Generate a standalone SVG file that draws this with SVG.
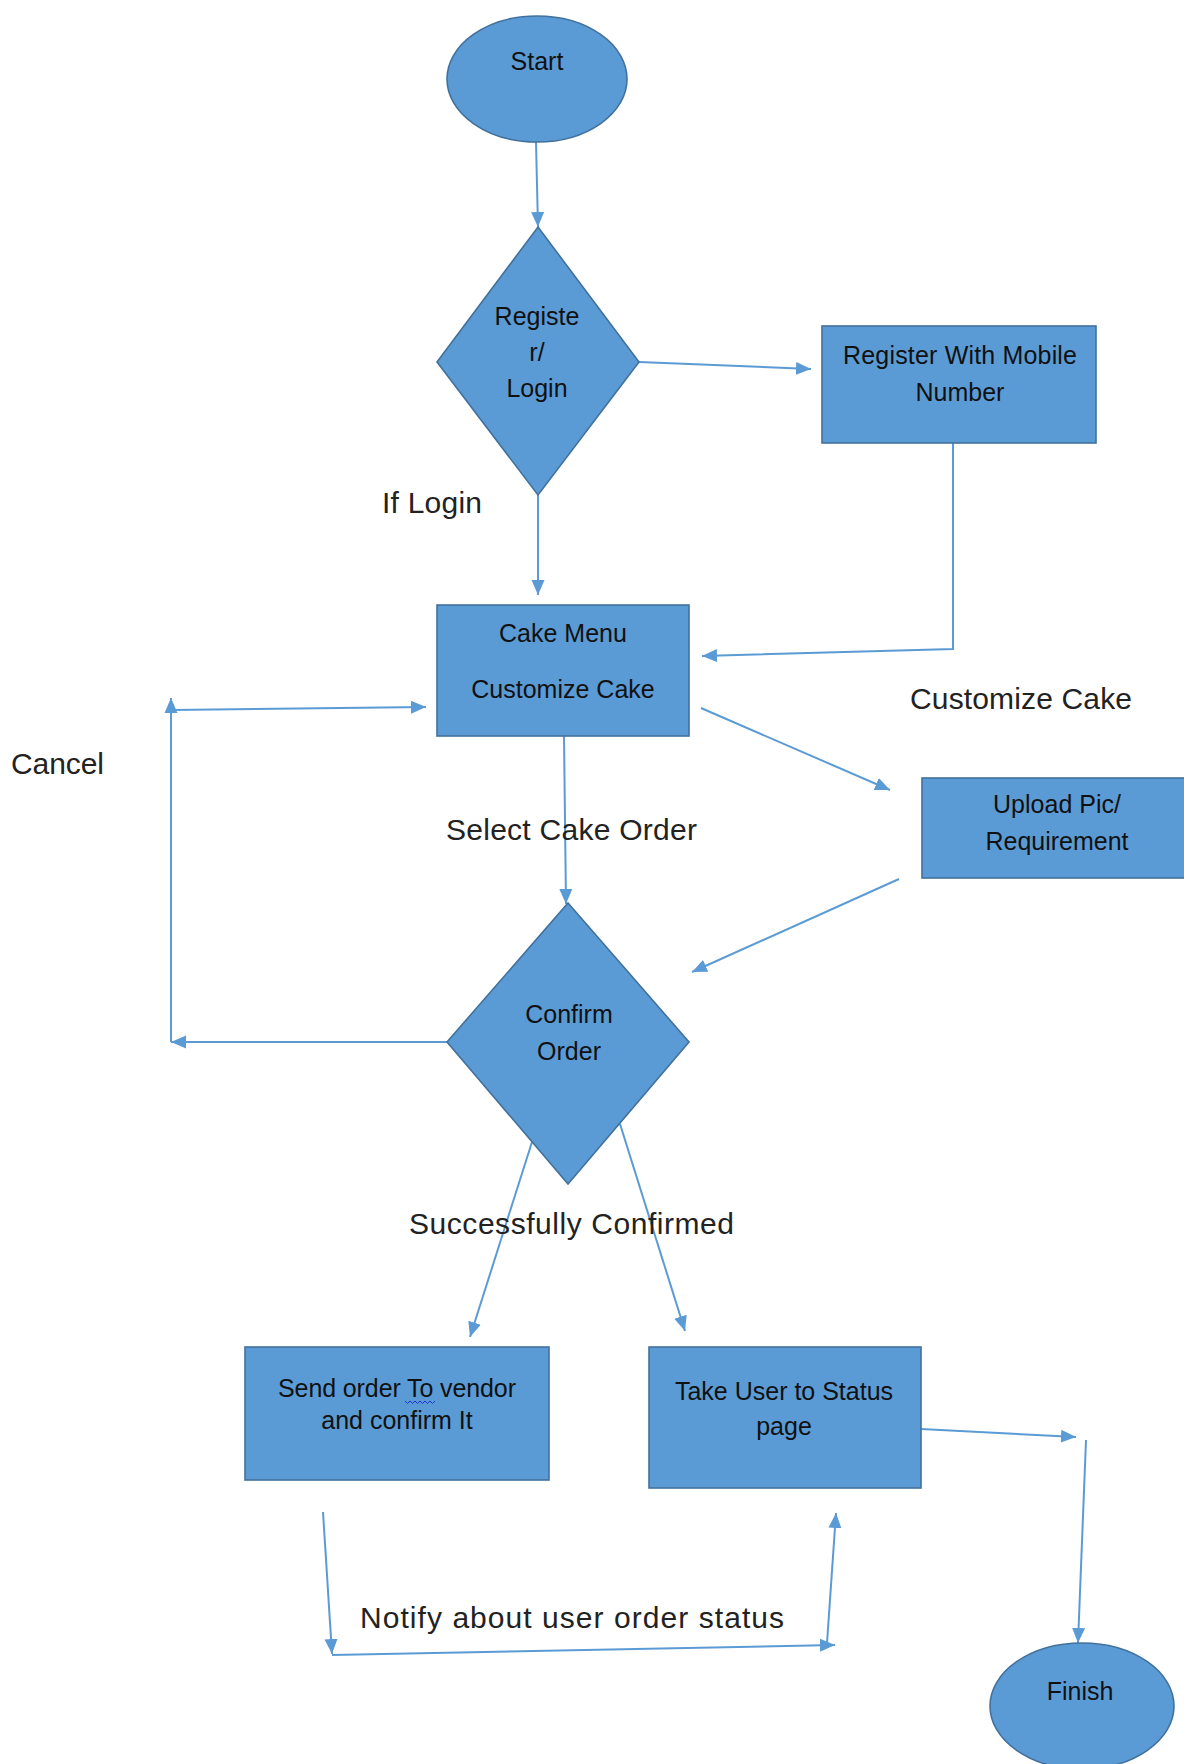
<svg xmlns="http://www.w3.org/2000/svg" width="1184" height="1764" viewBox="0 0 1184 1764">
<defs>
<style>
.shape{fill:#5B9BD5;stroke:#41719C;stroke-width:1.6}
.ntext{font-family:"Liberation Sans",Arial,sans-serif;font-size:25px;fill:#111;text-anchor:middle}
.label{font-family:"Liberation Sans",Arial,sans-serif;font-size:30px;fill:#222}
.conn{fill:none;stroke:#5B9BD5;stroke-width:2;marker-end:url(#arrow)}
</style>
<marker id="arrow" markerUnits="userSpaceOnUse" markerWidth="16" markerHeight="14" refX="15" refY="7" orient="auto">
<path d="M0,0.5 L15,7 L0,13.5 z" fill="#5B9BD5"/>
</marker>
</defs>
<rect width="1184" height="1764" fill="#ffffff"/>

<g id="connectors">
<line class="conn" x1="536" y1="142" x2="538" y2="227"/>
<line class="conn" x1="639" y1="362" x2="811" y2="369"/>
<polyline class="conn" points="953,443 953,649 702,656"/>
<line class="conn" x1="538" y1="495" x2="538" y2="595"/>
<line class="conn" x1="701" y1="708" x2="890" y2="790"/>
<line class="conn" x1="899" y1="879" x2="692" y2="972"/>
<line class="conn" x1="564" y1="736" x2="566" y2="904"/>
<line class="conn" x1="447" y1="1042" x2="171" y2="1042"/>
<line class="conn" x1="171" y1="1042" x2="171" y2="698"/>
<line class="conn" x1="171" y1="710" x2="426" y2="707"/>
<line class="conn" x1="532" y1="1142" x2="470" y2="1337"/>
<line class="conn" x1="620" y1="1124" x2="685" y2="1331"/>
<line class="conn" x1="921" y1="1429" x2="1076" y2="1437"/>
<line class="conn" x1="1086" y1="1440" x2="1078" y2="1643"/>
<line class="conn" x1="323" y1="1512" x2="332" y2="1654"/>
<line class="conn" x1="332" y1="1655" x2="835" y2="1645"/>
<line class="conn" x1="827" y1="1643" x2="836" y2="1513"/>
</g>

<g id="start">
<ellipse class="shape" cx="537" cy="79" rx="90" ry="63"/>
<text class="ntext" x="537" y="70">Start</text>
</g>

<g id="register-login">
<polygon class="shape" points="538,227 639,362 538,495 437,362"/>
<text class="ntext" x="537" y="325">Registe</text>
<text class="ntext" x="537" y="361">r/</text>
<text class="ntext" x="537" y="397">Login</text>
</g>

<g id="register-mobile">
<rect class="shape" x="822" y="326" width="274" height="117"/>
<text class="ntext" x="960" y="364" textLength="234" lengthAdjust="spacing">Register With Mobile</text>
<text class="ntext" x="960" y="401">Number</text>
</g>

<g id="cake-menu">
<rect class="shape" x="437" y="605" width="252" height="131"/>
<text class="ntext" x="563" y="642">Cake Menu</text>
<text class="ntext" x="563" y="698">Customize Cake</text>
</g>

<g id="upload">
<rect class="shape" x="922" y="778" width="280" height="100"/>
<text class="ntext" x="1057" y="813">Upload Pic/</text>
<text class="ntext" x="1057" y="850">Requirement</text>
</g>

<g id="confirm-order">
<polygon class="shape" points="568,903 689,1042 568,1184 447,1042"/>
<text class="ntext" x="569" y="1023">Confirm</text>
<text class="ntext" x="569" y="1060">Order</text>
</g>

<g id="send-order">
<rect class="shape" x="245" y="1347" width="304" height="133"/>
<text class="ntext" x="397" y="1397" textLength="238" lengthAdjust="spacing">Send order To vendor</text>
<path d="M405,1401 l2.5,2.5 l2.5,-2.5 l2.5,2.5 l2.5,-2.5 l2.5,2.5 l2.5,-2.5 l2.5,2.5 l2.5,-2.5 l2.5,2.5 l2.5,-2.5 l2.5,2.5 l2.5,-2.5" fill="none" stroke="#2233dd" stroke-width="1"/>
<text class="ntext" x="397" y="1429">and confirm It</text>
</g>

<g id="status-page">
<rect class="shape" x="649" y="1347" width="272" height="141"/>
<text class="ntext" x="784" y="1400">Take User to Status</text>
<text class="ntext" x="784" y="1435">page</text>
</g>

<g id="finish">
<ellipse class="shape" cx="1082" cy="1706" rx="92" ry="63"/>
<text class="ntext" x="1080" y="1700">Finish</text>
</g>

<g id="labels">
<text class="label" x="382" y="513" textLength="100" lengthAdjust="spacing">If Login</text>
<text class="label" x="11" y="774" textLength="93" lengthAdjust="spacing">Cancel</text>
<text class="label" x="446" y="840" textLength="251" lengthAdjust="spacing">Select Cake Order</text>
<text class="label" x="910" y="709" textLength="222" lengthAdjust="spacing">Customize Cake</text>
<text class="label" x="409" y="1234" textLength="325" lengthAdjust="spacing">Successfully Confirmed</text>
<text class="label" x="360" y="1628" textLength="424" lengthAdjust="spacing">Notify about user order status</text>
</g>
</svg>
